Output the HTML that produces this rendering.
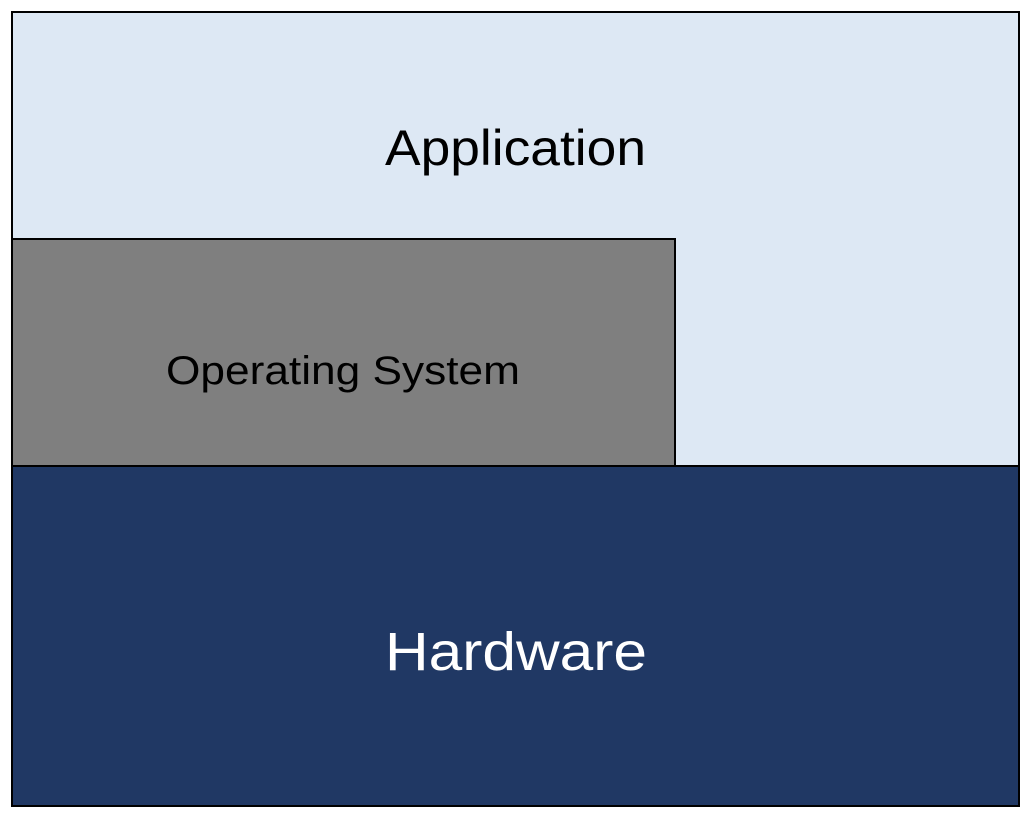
<!DOCTYPE html>
<html><head><style>html,body{margin:0;padding:0;background:#fff}</style></head>
<body>
<svg width="1032" height="819" xmlns="http://www.w3.org/2000/svg" font-family="Liberation Sans, sans-serif">
<rect x="0" y="0" width="1032" height="819" fill="#fff"/>
<rect x="12" y="12" width="1007" height="454" fill="#dde8f4" stroke="#000" stroke-width="2"/>
<rect x="12" y="239" width="663" height="227" fill="#7f7f7f" stroke="#000" stroke-width="2"/>
<rect x="12" y="466" width="1007" height="340" fill="#203864" stroke="#000" stroke-width="2"/>
<text x="385" y="165" font-size="50" fill="#000" textLength="261" lengthAdjust="spacingAndGlyphs">Application</text>
<text x="166" y="384" font-size="40" fill="#000" textLength="354" lengthAdjust="spacingAndGlyphs">Operating System</text>
<text x="385" y="670" font-size="54" fill="#fff" textLength="262" lengthAdjust="spacingAndGlyphs">Hardware</text>
</svg>
</body></html>
